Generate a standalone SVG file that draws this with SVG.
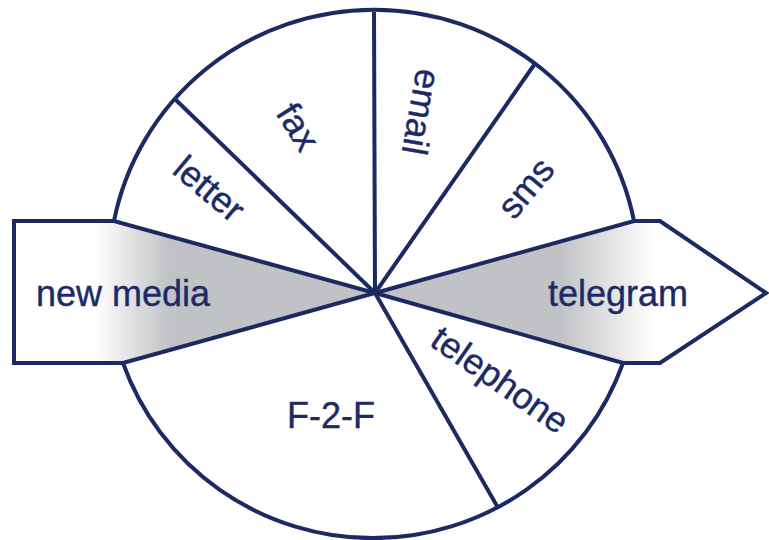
<svg xmlns="http://www.w3.org/2000/svg" width="769" height="540" viewBox="0 0 769 540">
<defs>
<linearGradient id="gl" gradientUnits="userSpaceOnUse" x1="95" y1="0" x2="170" y2="0">
<stop offset="0" stop-color="#ffffff"/><stop offset="1" stop-color="#c1c2c5"/>
</linearGradient>
<linearGradient id="gr" gradientUnits="userSpaceOnUse" x1="560" y1="0" x2="655" y2="0">
<stop offset="0" stop-color="#c1c2c5"/><stop offset="1" stop-color="#ffffff"/>
</linearGradient>
<style>
.ln{fill:none;stroke:#1b2a62;stroke-width:4;stroke-linejoin:miter}
.wd{stroke:#1b2a62;stroke-width:4;stroke-linejoin:miter}
.tx{font-family:"Liberation Sans",Arial,sans-serif;font-size:36px;fill:#1c2b66;stroke:#1c2b66;stroke-width:0.4;text-anchor:middle}
</style>
</defs>
<rect width="769" height="540" fill="#ffffff"/>
<g id="circle">
<path class="ln" d="M114,221 A265,262 0 0 1 634,221"/>
<path class="ln" d="M123,363 A265,262 0 0 0 623,363"/>
</g>
<g id="new-media">
<polygon class="wd" fill="url(#gl)" points="14,221 114,221 375,293 123,363 14,363"/>
<text class="tx" x="123" y="306">new media</text>
</g>
<g id="telegram">
<polygon class="wd" fill="url(#gr)" points="375,293 634,221 660,221 766,293 660,363 623,363"/>
<text class="tx" x="618" y="306">telegram</text>
</g>
<g id="connectors">
<line class="ln" x1="375" y1="293" x2="176" y2="100"/>
<line class="ln" x1="375" y1="293" x2="374" y2="12"/>
<line class="ln" x1="375" y1="293" x2="534" y2="65"/>
<line class="ln" x1="375" y1="293" x2="497" y2="506"/>
</g>
<g id="letter"><text class="tx" transform="translate(209,189) rotate(40)" y="12">letter</text></g>
<g id="fax"><text class="tx" transform="translate(298,127) rotate(58)" y="12">fax</text></g>
<g id="email"><text class="tx" transform="translate(421,112) rotate(100)" y="12">email</text></g>
<g id="sms"><text class="tx" transform="translate(526,188) rotate(-50)" y="12">sms</text></g>
<g id="telephone"><text class="tx" transform="translate(500,380) rotate(35)" y="12">telephone</text></g>
<g id="f2f"><text class="tx" x="331" y="428">F-2-F</text></g>
</svg>
